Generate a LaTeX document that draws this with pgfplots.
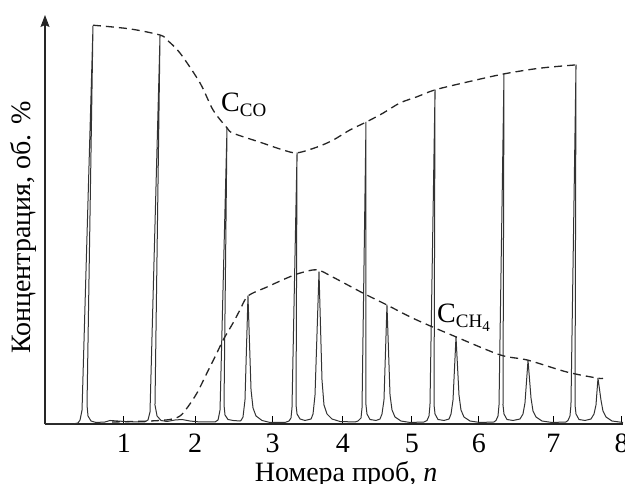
\documentclass[border=0pt]{standalone}
\usepackage{fontspec}
\setmainfont{Liberation Serif}
\usepackage{pgfplots}
\pgfplotsset{compat=1.18}
\usetikzlibrary{arrows.meta}

% chromatogram trace (sample number n, arbitrary concentration units)
\pgfplotstableread{
x y
-0.141 0
0.253 0
0.323 0.24
0.352 0.98
0.380 3.42
0.534 97.3
0.450 4.65
0.464 1.96
0.506 0.73
0.577 0.37
0.703 0.49
0.774 0.86
0.886 0.73
0.985 0.61
1.196 0.49
1.266 0.55
1.308 0.98
1.336 2.93
1.477 95.1
1.406 4.65
1.435 1.96
1.491 0.86
1.575 0.61
1.688 0.98
1.786 1.10
1.899 0.73
2.039 0.49
2.250 0.49
2.293 0.98
2.321 3.42
2.419 72.4
2.377 4.65
2.391 2.20
2.433 1.10
2.504 0.86
2.602 0.73
2.616 0.86
2.644 1.71
2.672 5.87
2.714 31.3
2.757 8.31
2.785 3.91
2.827 1.96
2.911 0.86
3.024 0.37
3.235 0.37
3.291 0.73
3.319 1.47
3.333 3.91
3.404 66.3
3.390 4.65
3.404 2.44
3.446 1.22
3.516 0.86
3.601 1.22
3.629 2.44
3.657 7.09
3.713 37.2
3.755 10.8
3.783 4.65
3.826 2.44
3.896 1.22
4.008 0.61
4.219 0.49
4.262 0.73
4.304 1.47
4.318 3.91
4.374 73.8
4.374 4.65
4.388 2.44
4.430 1.10
4.515 0.86
4.571 1.22
4.599 2.44
4.627 5.87
4.669 29.1
4.712 7.09
4.740 3.42
4.782 1.71
4.866 0.73
4.993 0.37
5.190 0.49
5.232 0.86
5.260 1.96
5.274 4.65
5.345 81.7
5.331 4.65
5.345 2.44
5.387 1.10
5.471 0.86
5.542 1.22
5.570 2.44
5.598 5.87
5.640 21.3
5.682 7.09
5.710 3.42
5.752 1.71
5.837 0.73
5.977 0.37
6.174 0.49
6.203 0.86
6.231 1.96
6.245 4.65
6.315 85.6
6.301 4.65
6.315 2.44
6.357 1.10
6.442 0.86
6.540 1.22
6.582 2.44
6.610 5.13
6.653 15.6
6.695 6.36
6.723 3.18
6.765 1.71
6.850 0.73
6.990 0.37
7.187 0.49
7.215 0.86
7.243 1.96
7.257 4.65
7.328 87.8
7.314 4.65
7.328 2.44
7.370 1.10
7.454 0.86
7.539 1.22
7.581 2.44
7.609 4.65
7.637 11.2
7.679 5.87
7.707 3.18
7.750 1.71
7.834 0.73
7.989 0.37
}\trace

% envelope of the CO peaks
\pgfplotstableread{
x y
0.534 97.5
1.055 96.6
1.477 95.1
1.575 93.9
1.758 90.7
2.039 83.4
2.222 76.8
2.419 72.4
2.504 71.1
2.883 68.9
3.207 67.0
3.404 66.3
3.685 67.7
3.910 69.4
4.149 71.9
4.374 73.8
4.613 76.0
4.852 78.5
5.091 80.0
5.345 81.7
5.795 83.6
6.315 85.6
6.821 87.0
7.328 87.8
}\envco

% envelope of the CH4 peaks
\pgfplotstableread{
x y
0.802 0.49
1.336 0.73
1.617 1.10
1.758 1.96
1.857 3.91
1.997 7.58
2.138 12.5
2.278 17.4
2.363 20.5
2.504 24.7
2.602 27.9
2.714 31.3
2.982 33.5
3.263 35.7
3.446 36.9
3.685 37.7
3.910 35.9
4.332 32.0
4.669 29.1
4.993 26.2
5.274 24.0
5.640 21.3
6.259 16.9
6.653 15.6
7.201 12.7
7.637 11.2
7.707 11.2
}\envch

\begin{document}
\begin{tikzpicture}[font=\fontsize{28}{32}\selectfont]
\begin{axis}[
  scale only axis, width=578pt, height=409pt,
  xmin=-0.141, xmax=7.989, ymin=0, ymax=100,
  axis lines=left,
  axis line style={line width=1.2pt, black!85},
  x axis line style={-},
  y axis line style={-{Stealth[length=12pt,width=9pt,inset=2pt]}},
  ytick=\empty,
  xtick={0.97,1.97,3.06,4.05,5.02,5.96,7.01,7.97},
  xticklabels={1,2,3,4,5,6,7,8},
  tick align=inside, major tick length=8pt,
  tick style={line width=1pt, black},
  xticklabel style={anchor=base, yshift=-29pt},
  xlabel={Номера проб, \textit{n}},
  xlabel style={at={(axis description cs:0.521,-0.1418)}, anchor=base},
  ylabel={Концентрация, об. \%},
  ylabel style={at={(axis description cs:-0.038,0.48)}, anchor=center},
  clip=false,
]
\addplot[no markers, line width=1pt, black!80, line join=round] table {\trace};
\addplot[no markers, smooth, tension=0.5, line width=1.3pt, black!85,
         dash pattern=on 8pt off 5pt] table {\envco};
\addplot[no markers, smooth, tension=0.5, line width=1.3pt, black!85,
         dash pattern=on 8pt off 5pt] table {\envch};
\node[anchor=base west, inner sep=0pt] at (axis cs:2.335,76.3)
  {C\raisebox{-5pt}{\fontsize{19}{20}\selectfont CO}};
\node[anchor=base west, inner sep=0pt] at (axis cs:5.373,24.9)
  {C\raisebox{-5pt}{\fontsize{19}{20}\selectfont CH\raisebox{-4pt}{\fontsize{15}{16}\selectfont 4}}};
\end{axis}
\pgfresetboundingbox
\path[use as bounding box] ([xshift=-45pt,yshift=-60pt]current axis.south west)
  rectangle ([xshift=2pt,yshift=15pt]current axis.north east);
\end{tikzpicture}
\end{document}
